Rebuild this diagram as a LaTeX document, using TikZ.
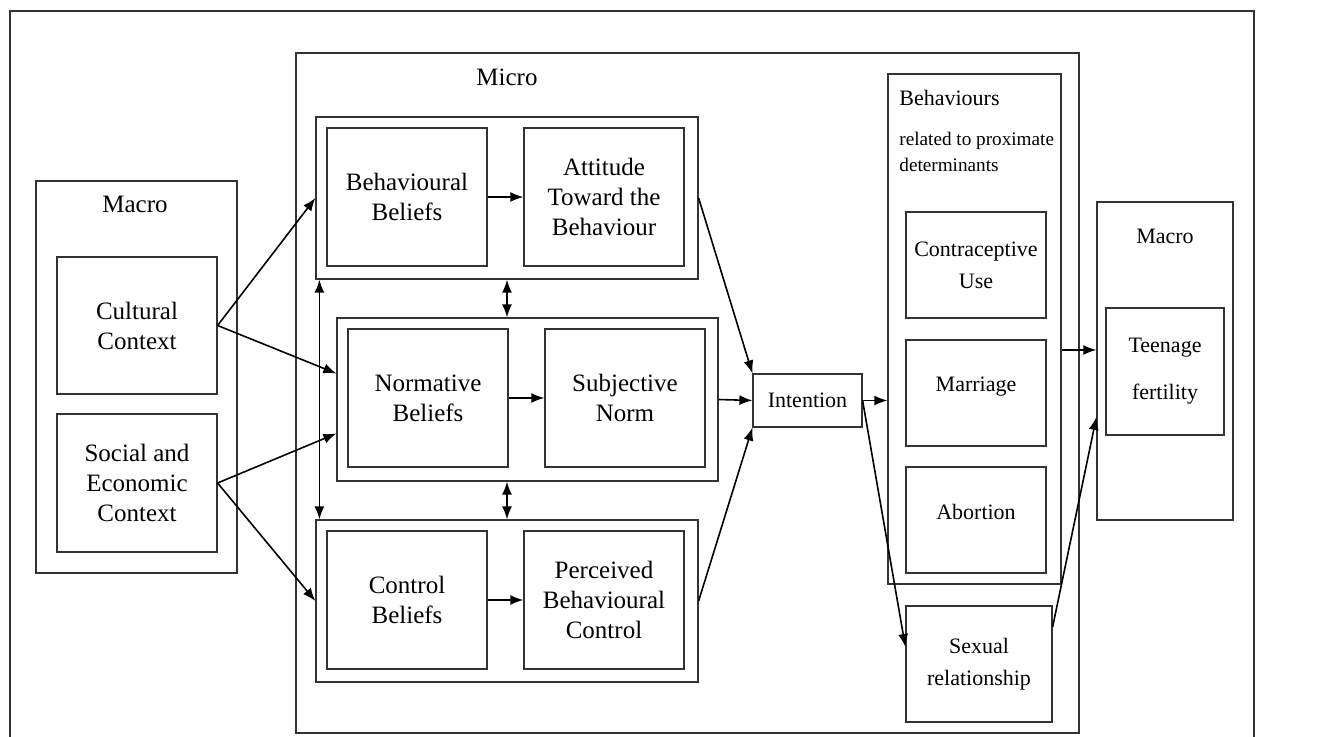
\documentclass[tikz,border=0pt]{standalone}
\usepackage{fontspec}
\setmainfont{Liberation Serif}
\usetikzlibrary{arrows.meta, positioning, calc}

\begin{document}
\begin{tikzpicture}[x=0.5pt, y=-0.5pt,
            frame/.style={rectangle, draw=black!80, line width=0.6pt, inner sep=0pt},
            box/.style={frame, align=center, font=\fontsize{12.5}{15}\selectfont},
            sbox/.style={frame, align=center, font=\fontsize{11}{16}\selectfont},
            title/.style={inner sep=0pt, font=\fontsize{12.5}{15}\selectfont},
            arrow/.style={-{Latex[length=6.5pt,width=5pt]}, line width=0.8pt},
            dblarrow/.style={{Latex[length=6.5pt,width=5pt]}-{Latex[length=6.5pt,width=5pt]}, line width=0.8pt}
        ]
            \useasboundingbox (0,0) rectangle (1338,737);

% Outer frame
            \draw[draw=black!80, line width=0.6pt] (10,737) -- (10,11) -- (1254,11) -- (1254,737);

% Macro (left)
            \node[frame, minimum width=100.5pt, minimum height=196pt] (macroL) at (136.5,377) {};
            \node[title] (macroLt) at (135,204) {Macro};
            \node[box, minimum width=80pt, minimum height=68.5pt] (cult) at (137,325.5) {Cultural\\Context};
            \node[box, minimum width=80pt, minimum height=69pt] (soc) at (137,483) {Social and\\Economic\\Context};

% Micro
            \node[frame, minimum width=391.5pt, minimum height=340pt] (micro) at (687.5,393) {};
            \node[title] (microt) at (507,77) {Micro};

            \node[frame, minimum width=191pt, minimum height=81pt] (attg) at (507,198) {};
            \node[box, minimum width=80pt, minimum height=69pt] (bbel) at (407,197) {Behavioural\\Beliefs};
            \node[box, minimum width=80pt, minimum height=69pt] (att) at (604,197) {Attitude\\Toward the\\Behaviour};

            \node[frame, minimum width=190.5pt, minimum height=81.5pt] (normg) at (527.5,399.5) {};
            \node[box, minimum width=80pt, minimum height=69pt] (nbel) at (428,398) {Normative\\Beliefs};
            \node[box, minimum width=80pt, minimum height=69pt] (subj) at (625,398) {Subjective\\Norm};

            \node[frame, minimum width=191pt, minimum height=81pt] (ctrlg) at (507,601) {};
            \node[box, minimum width=80pt, minimum height=69pt] (cbel) at (407,600) {Control\\Beliefs};
            \node[box, minimum width=80pt, minimum height=69pt] (pbc) at (604,600) {Perceived\\Behavioural\\Control};

            \node[sbox, minimum width=54.5pt, minimum height=26.5pt] (intent) at (807.5,400.5) {Intention};

% Behaviours
            \node[frame, minimum width=86.5pt, minimum height=255pt] (behav) at (974.5,329) {};
            \node[anchor=west, inner sep=0pt, font=\fontsize{11}{13}\selectfont] (behavt) at (899,98) {Behaviours};
            \node[anchor=north west, inner sep=0pt, align=left, font=\fontsize{9.6}{13}\selectfont] (behavs) at (899,132) {related to proximate\\determinants};
            \node[sbox, minimum width=70pt, minimum height=53pt] (contra) at (976,265) {Contraceptive\\Use};
            \node[sbox, minimum width=70pt, minimum height=53pt, text depth=9pt] (marr) at (976,393) {Marriage};
            \node[sbox, minimum width=70pt, minimum height=53pt, text depth=8pt] (abort) at (976,520) {Abortion};
            \node[sbox, minimum width=73pt, minimum height=58pt] (sexrel) at (979,664) {Sexual\\relationship};

% Macro (right)
            \node[frame, minimum width=68pt, minimum height=159pt] (macroR) at (1165,361) {};
            \node[title, font=\fontsize{11}{13}\selectfont] (macroRt) at (1165,236) {Macro};
            \node[sbox, minimum width=59pt, minimum height=63.5pt, font=\fontsize{11}{23.5}\selectfont] (teen) at (1165,371.5) {Teenage\\fertility};

% Arrows
            \draw[arrow] (cult.east) -- (attg.west);
            \draw[arrow] (cult.east) -- ([yshift=13pt]normg.west);
            \draw[arrow] (soc.east) -- ([yshift=-17pt]normg.west);
            \draw[arrow] (soc.east) -- (ctrlg.west);

            \draw[arrow] (bbel) -- (att);
            \draw[arrow] (nbel) -- (subj);
            \draw[arrow] (cbel) -- (pbc);

            \draw[dblarrow] (attg.south) -- (attg.south |- normg.north);
            \draw[dblarrow] (ctrlg.north |- normg.south) -- (ctrlg.north);
            \draw[dblarrow] ([xshift=2pt]attg.south west) -- ([xshift=2pt]ctrlg.north west);

            \draw[arrow] (attg.east) -- (intent.north west);
            \draw[arrow] (normg.east) -- (intent.west);
            \draw[arrow] (ctrlg.east) -- (intent.south west);

            \draw[arrow] (intent.east) -- (intent.east -| behav.west);
            \draw[arrow] (intent.east) -- ([yshift=8.5pt]sexrel.west);
            \draw[arrow] ([yshift=-10.5pt]behav.east) -- ([yshift=-10.5pt]behav.east -| macroR.west);
            \draw[arrow] ([yshift=18.5pt]sexrel.east) -- ([yshift=-28pt]macroR.west);

        \end{tikzpicture}
\end{document}
